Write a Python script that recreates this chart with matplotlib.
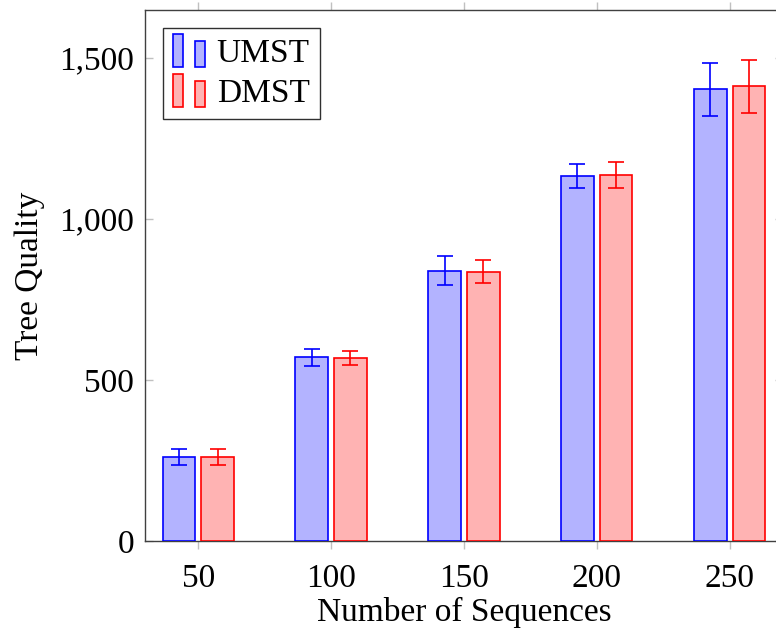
import numpy as np
import matplotlib
matplotlib.use("Agg")
import matplotlib.pyplot as plt
from matplotlib.patches import Rectangle
from matplotlib.container import BarContainer
from matplotlib.legend_handler import HandlerBase
from matplotlib.ticker import FuncFormatter

plt.rc('font', family='Liberation Serif', size=24)
plt.rc('mathtext', fontset='stix')

# data
seq_counts = [50, 100, 150, 200, 250]
umst_mean = [261, 570, 840, 1134, 1403]
umst_err = [24, 25, 46, 38, 82]
dmst_mean = [262, 568, 836, 1137, 1412]
dmst_err = [25, 22, 36, 40, 83]

BLUE = '#0000ff'
RED = '#ff0000'
BLUE_FILL = '#b3b3ff'
RED_FILL = '#ffb3b3'


class TwoBarHandler(HandlerBase):
    # pgfplots style ybar legend: two small bars
    def create_artists(self, legend, orig_handle, xdescent, ydescent,
                       width, height, fontsize, trans):
        p = orig_handle.patches[0]
        fc = p.get_facecolor()
        ec = p.get_edgecolor()
        w = width * 0.3
        y0 = -ydescent - height * 0.2
        r1 = Rectangle((-xdescent, y0), w, height * 1.4,
                       facecolor=fc, edgecolor=ec, lw=1.2, transform=trans)
        r2 = Rectangle((-xdescent + width * 0.65, y0), w, height * 1.1,
                       facecolor=fc, edgecolor=ec, lw=1.2, transform=trans)
        return [r1, r2]


fig = plt.figure(figsize=(7.76, 6.37), dpi=100)
ax = fig.add_axes([0.1869, 0.1507, 0.822, 0.8336])

x = np.array(seq_counts, dtype=float)
off = 7.3
bw = 12.2
ax.bar(x - off, umst_mean, width=bw, color=BLUE_FILL, edgecolor=BLUE, linewidth=1.2,
       label='UMST', zorder=3)
ax.bar(x + off, dmst_mean, width=bw, color=RED_FILL, edgecolor=RED, linewidth=1.2,
       label='DMST', zorder=3)
ax.errorbar(x - off, umst_mean, yerr=umst_err, fmt='none', ecolor=BLUE, elinewidth=1.2,
            capsize=6, capthick=1.2, zorder=4)
ax.errorbar(x + off, dmst_mean, yerr=dmst_err, fmt='none', ecolor=RED, elinewidth=1.2,
            capsize=6, capthick=1.2, zorder=4)

ax.set_xlim(30, 270)
ax.set_ylim(0, 1649)
ax.set_xticks(seq_counts)
ax.set_yticks([0, 500, 1000, 1500])
ax.yaxis.set_major_formatter(FuncFormatter(lambda v, p: '{:,}'.format(int(v))))

ax.tick_params(axis='x', direction='out', top=True, length=6, width=1, color='#c0c0c0', pad=10)
ax.tick_params(axis='y', direction='in', right=True, length=6, width=1, color='#c0c0c0', pad=8)
for s in ax.spines.values():
    s.set_color('#404040')
    s.set_linewidth(1.0)

ax.set_xlabel('Number of Sequences', labelpad=2)
ax.set_ylabel('Tree Quality', labelpad=10)

leg = ax.legend(loc='upper left', handler_map={BarContainer: TwoBarHandler()},
                fancybox=False, edgecolor='#303030', framealpha=1, fontsize=24,
                handlelength=1.0, handleheight=0.7, handletextpad=0.3,
                borderaxespad=0.55, labelspacing=0.3, borderpad=0.3)
leg.get_frame().set_linewidth(1.0)

fig.savefig('out.png', dpi=100)
